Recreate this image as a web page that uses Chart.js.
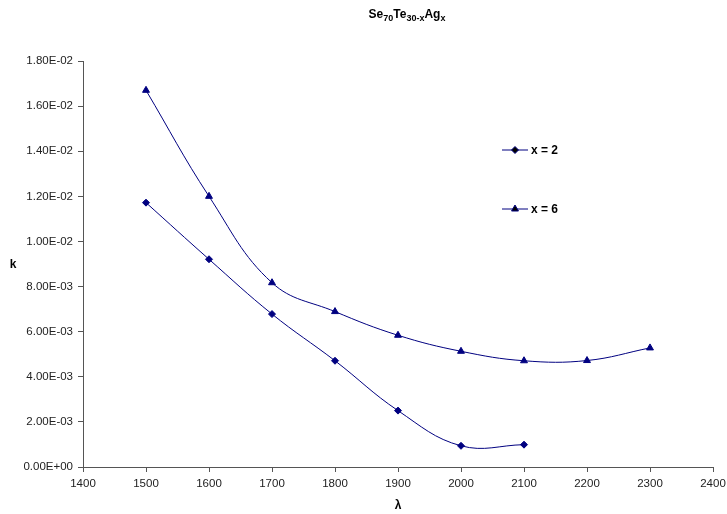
<!DOCTYPE html>
<html>
<head>
<meta charset="utf-8">
<script src="https://cdn.jsdelivr.net/npm/chart.js@4"></script>
<style>
    html, body { margin: 0; padding: 0; background: #fff; }
    #wrap { width: 727px; height: 514px; }
</style>
</head>
<body>
<div id="wrap"><canvas id="myChart" width="727" height="514"></canvas></div>
<script>
"use strict";

// values
const lambda2 = [1500, 1600, 1700, 1800, 1900, 2000, 2100];
const k2 = [0.01172, 0.00921, 0.00678, 0.00471, 0.00250, 0.00094, 0.00099];
const lambda6 = [1500, 1600, 1700, 1800, 1900, 2000, 2100, 2200, 2300];
const k6 = [0.0167, 0.0120, 0.00817, 0.00689, 0.00584, 0.00513, 0.00471, 0.00472, 0.00528];
const seriesNames = ["x = 2", "x = 6"];
const xTicks = [1400, 1500, 1600, 1700, 1800, 1900, 2000, 2100, 2200, 2300, 2400];
const yTicks = [0, 0.002, 0.004, 0.006, 0.008, 0.010, 0.012, 0.014, 0.016, 0.018];

const navy = "#000080";
const font = "'Liberation Sans', Arial, sans-serif";

function toPoints(xs, ys) {
    return xs.map((x, i) => ({ x: x, y: ys[i] }));
}

// 1.80E-02 style labels
function sci(v) {
    if (v === 0) return "0.00E+00";
    const parts = v.toExponential(2).split("e");
    const e = parseInt(parts[1], 10);
    const sign = e < 0 ? "-" : "+";
    return parts[0].toUpperCase() + "E" + sign + String(Math.abs(e)).padStart(2, "0");
}

// title with subscripts, axis titles and the legend drawn on the canvas
const extras = {
    id: "extras",
    afterDraw(chart) {
        const ctx = chart.ctx;
        ctx.save();
        ctx.fillStyle = "#000";
        ctx.textBaseline = "alphabetic";

        // title Se70Te30-xAgx
        const parts = [["Se", false], ["70", true], ["Te", false], ["30-x", true], ["Ag", false], ["x", true]];
        const big = "bold 12px " + font;
        const small = "bold 9px " + font;
        let w = 0;
        parts.forEach(p => { ctx.font = p[1] ? small : big; w += ctx.measureText(p[0]).width; });
        let x = 407 - w / 2;
        parts.forEach(p => {
            ctx.font = p[1] ? small : big;
            ctx.fillText(p[0], x, p[1] ? 21 : 18);
            x += ctx.measureText(p[0]).width;
        });

        // axis titles
        ctx.font = "bold 12px " + font;
        ctx.textAlign = "center";
        ctx.textBaseline = "middle";
        ctx.fillText("k", 13, 265);
        ctx.fillText("λ", 398, 506);

        // legend
        const rows = [[150, "rectRot", 3.5], [209, "triangle", 4]];
        rows.forEach((r, i) => {
            ctx.strokeStyle = navy;
            ctx.lineWidth = 1;
            ctx.beginPath();
            ctx.moveTo(502, r[0]);
            ctx.lineTo(528, r[0]);
            ctx.stroke();
            Chart.helpers.drawPoint(ctx, {
                pointStyle: r[1], radius: r[2], borderWidth: 1,
                borderColor: navy, backgroundColor: navy
            }, 515, r[0]);
            ctx.fillStyle = "#000";
            ctx.font = "bold 12px " + font;
            ctx.textAlign = "left";
            ctx.fillText(seriesNames[i], 531, r[0] + 1);
        });
        ctx.restore();
    }
};

function createChart() {
    const ctx = document.getElementById("myChart").getContext("2d");
    new Chart(ctx, {
        type: "line",
        data: {
            datasets: [{
                label: seriesNames[0],
                data: toPoints(lambda2, k2),
                borderColor: navy,
                backgroundColor: navy,
                borderWidth: 1,
                pointStyle: "rectRot",
                pointRadius: 3.5,
                tension: 0.4
            }, {
                label: seriesNames[1],
                data: toPoints(lambda6, k6),
                borderColor: navy,
                backgroundColor: navy,
                borderWidth: 1,
                pointStyle: "triangle",
                pointRadius: 4,
                tension: 0.4
            }]
        },
        options: {
            responsive: false,
            animation: false,
            layout: { padding: { top: 61, right: 14, left: 0, bottom: 0 } },
            plugins: {
                legend: { display: false },
                tooltip: { enabled: false }
            },
            scales: {
                x: {
                    type: "linear",
                    min: 1400,
                    max: 2400,
                    afterBuildTicks: axis => { axis.ticks = xTicks.map(v => ({ value: v })); },
                    afterFit: axis => { axis.height = 47; axis.paddingRight = 0; axis.paddingLeft = 0; },
                    grid: { drawOnChartArea: false, drawTicks: true, tickLength: 5, color: "#555" },
                    border: { color: "#555", width: 1 },
                    ticks: { color: "#222", font: { family: font, size: 11.5 }, padding: 5, maxRotation: 0, callback: v => String(v) }
                },
                y: {
                    min: 0,
                    max: 0.018,
                    afterBuildTicks: axis => { axis.ticks = yTicks.map(v => ({ value: v })); },
                    afterFit: axis => { axis.width = 83; },
                    grid: { drawOnChartArea: false, drawTicks: true, tickLength: 5, color: "#555" },
                    border: { color: "#555", width: 1 },
                    ticks: { color: "#222", font: { family: font, size: 11.5 }, padding: 5, callback: v => sci(v) }
                }
            }
        },
        plugins: [extras]
    });
}

window.onload = createChart;
</script>
</body>
</html>
